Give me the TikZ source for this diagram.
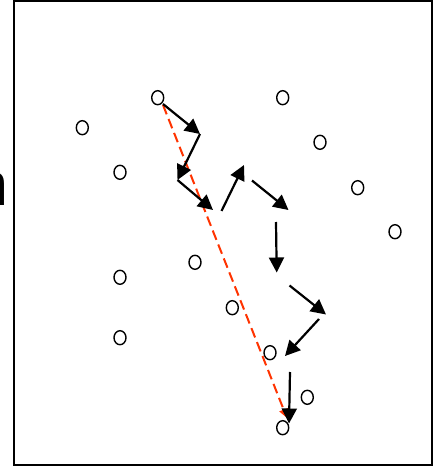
\documentclass[tikz,border=0pt]{standalone}
\usepackage{fontspec}
\newfontfamily\lsans{Liberation Sans}
\usetikzlibrary{arrows.meta,shapes.geometric}
\definecolor{redline}{RGB}{255,51,0}
\tikzset{
  dot/.style={draw=black, shape=ellipse, line width=1.4pt, minimum width=12pt, minimum height=14pt, inner sep=0pt},
  arr/.style={line width=2.2pt, -{Triangle[length=15pt,width=15pt]}},
  redarr/.style={redline, line width=2pt, dash pattern=on 10pt off 5pt, -{Triangle[length=9pt,width=9pt]}},
  frame/.style={line width=1.4pt, draw=black}
}
\begin{document}
\begin{tikzpicture}[x=1pt,y=-1pt]
\useasboundingbox (0,0) rectangle (433,468);
\node[anchor=base west, inner sep=0pt, font=\lsans\fontsize{61}{66}\selectfont] (letter) at (-26,205) {n};
\draw[frame] (14,1) rectangle (432,465);
% circles
\node[dot] (c1) at (157.7,97.7) {};
\node[dot] (c2) at (282.7,97.7) {};
\node[dot] (c3) at (82.3,127.7) {};
\node[dot] (c4) at (320,142.3) {};
\node[dot] (c5) at (120,172.3) {};
\node[dot] (c6) at (357.7,187.7) {};
\node[dot] (c7) at (395,231.7) {};
\node[dot] (c8) at (195,262.3) {};
\node[dot] (c9) at (120,277.3) {};
\node[dot] (c10) at (232.3,307.7) {};
\node[dot] (c11) at (120,337.7) {};
\node[dot] (c12) at (270,352.7) {};
\node[dot] (c13) at (307.3,397.3) {};
\node[dot] (c14) at (282.7,427.7) {};
% arrow points
\coordinate (p1) at (163,104);
\coordinate (p2) at (200,134);
\coordinate (p3) at (177.5,180);
\coordinate (p4) at (213,210);
\coordinate (p5) at (221.5,211);
\coordinate (p6) at (244,165);
\coordinate (p7) at (252,180.5);
\coordinate (p8) at (288.5,210);
\coordinate (p9) at (276,222);
\coordinate (p10) at (276.7,272.5);
\coordinate (p11) at (289.5,285.5);
\coordinate (p12) at (326,314.5);
\coordinate (p13) at (319,319);
\coordinate (p14) at (285,356);
\coordinate (p15) at (290,372);
\coordinate (p16) at (289,423.5);
\coordinate (r1) at (163,105);
\coordinate (r2) at (287,418);
% red dashed
\draw[redarr] (r1) -- (r2);
% black arrows
\draw[arr] (p1) -- (p2);
\draw[arr] (p2) -- (p3);
\draw[arr] (p3) -- (p4);
\draw[arr] (p5) -- (p6);
\draw[arr] (p7) -- (p8);
\draw[arr] (p9) -- (p10);
\draw[arr] (p11) -- (p12);
\draw[arr] (p13) -- (p14);
\draw[arr] (p15) -- (p16);
\end{tikzpicture}
\end{document}
